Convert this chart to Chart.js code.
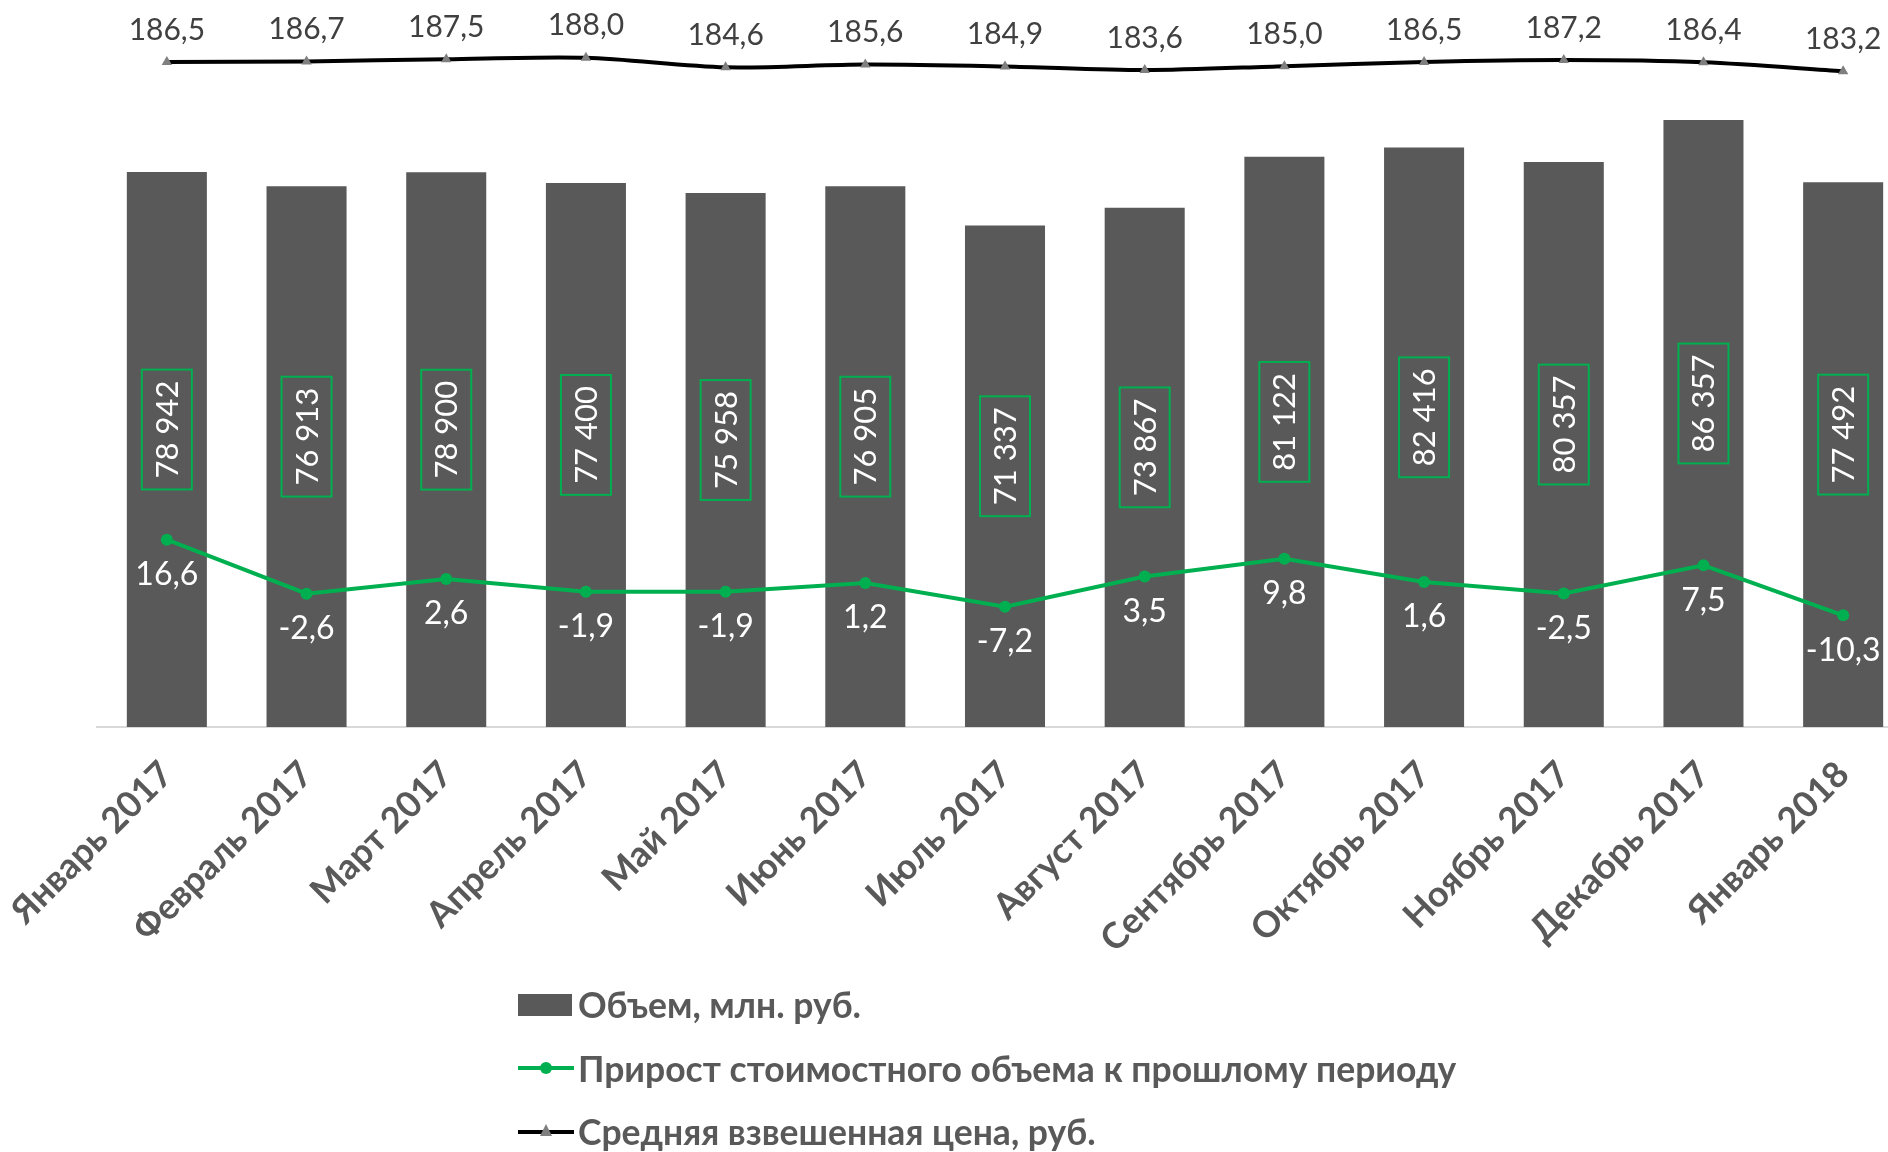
<!DOCTYPE html>
<html lang="ru">
<head>
<meta charset="utf-8">
<script src="https://cdn.jsdelivr.net/npm/chart.js@4.4.1/dist/chart.umd.min.js"></script>
<style>
    html, body { margin: 0; padding: 0; background: #fff; overflow: hidden; }
    .wrap { position: relative; width: 1940px; height: 1152px; }
    #legend { position: absolute; left: 518px; top: 973px; font: bold 35.5px Lato, sans-serif; color: #595959; }
    .row { display: flex; align-items: center; height: 63.5px; white-space: nowrap; }
    .sw { position: relative; width: 56px; height: 22px; margin-right: 4px; }
    .sw .box { position: absolute; left: 0; top: 0; width: 54px; height: 22px; }
    .sw .ln { position: absolute; left: 0; top: 9px; width: 56px; height: 4px; }
    .sw .dot { position: absolute; left: 22px; top: 5px; width: 12px; height: 12px; border-radius: 50%; }
    .sw .tri { position: absolute; left: 22px; top: 3px; width: 0; height: 0;
        border-left: 6px solid transparent; border-right: 6px solid transparent; border-bottom: 12px solid #7f7f7f; }
</style>
</head>
<body>
<div class="wrap">
    <canvas id="chart" width="1940" height="1152"></canvas>
    <div id="legend"></div>
</div>
<script>
(function () {
    "use strict";

    const months = [
        "Январь 2017", "Февраль 2017", "Март 2017", "Апрель 2017", "Май 2017",
        "Июнь 2017", "Июль 2017", "Август 2017", "Сентябрь 2017", "Октябрь 2017",
        "Ноябрь 2017", "Декабрь 2017", "Январь 2018",
    ];
    const volume = [
        78942, 76913, 78900, 77400, 75958, 76905, 71337, 73867, 81122, 82416,
        80357, 86357, 77492,
    ];
    const growth = [16.6, -2.6, 2.6, -1.9, -1.9, 1.2, -7.2, 3.5, 9.8, 1.6, -2.5, 7.5, -10.3];
    const price = [
        186.5, 186.7, 187.5, 188.0, 184.6, 185.6, 184.9, 183.6, 185.0, 186.5,
        187.2, 186.4, 183.2,
    ];

    const GREY = "#595959";
    const GREEN = "#00B050";

    const fmtVolume = (v) => String(v).replace(/\B(?=(\d{3})+(?!\d))/g, " ");
    const fmtDec = (v) => v.toFixed(1).replace(".", ",");

    // labels on bars and on both lines
    const valueLabels = {
        id: "valueLabels",
        afterDatasetsDraw(chart) {
            const ctx = chart.ctx;
            ctx.save();
            ctx.textAlign = "center";
            ctx.textBaseline = "middle";

            // volume: rotated, in green frame
            ctx.font = "31px Lato, sans-serif";
            chart.getDatasetMeta(0).data.forEach((bar, i) => {
                const txt = fmtVolume(volume[i]);
                const w = ctx.measureText(txt).width + 22;
                const h = 50;
                const cy = (bar.y + bar.base) / 2 - 20;
                ctx.save();
                ctx.translate(bar.x, cy);
                ctx.rotate(-Math.PI / 2);
                ctx.strokeStyle = GREEN;
                ctx.lineWidth = 2;
                ctx.strokeRect(-w / 2, -h / 2, w, h);
                ctx.fillStyle = "#ffffff";
                ctx.fillText(txt, 0, 1);
                ctx.restore();
            });

            // growth: white, below point
            ctx.font = "32px Lato, sans-serif";
            ctx.fillStyle = "#ffffff";
            chart.getDatasetMeta(1).data.forEach((pt, i) => {
                ctx.fillText(fmtDec(growth[i]), pt.x, pt.y + 35);
            });

            // price: dark grey, above point
            ctx.font = "30px Lato, sans-serif";
            ctx.fillStyle = "#404040";
            chart.getDatasetMeta(2).data.forEach((pt, i) => {
                ctx.fillText(fmtDec(price[i]), pt.x, pt.y - 32);
            });
            ctx.restore();
        },
    };

    const chart = new Chart(document.getElementById("chart"), {
        data: {
            labels: months,
            datasets: [
                {
                    type: "bar",
                    label: "Объем, млн. руб.",
                    data: volume,
                    backgroundColor: GREY,
                    barPercentage: 0.573,
                    categoryPercentage: 1,
                    yAxisID: "y",
                    order: 3,
                },
                {
                    type: "line",
                    label: "Прирост стоимостного объема к прошлому периоду",
                    data: growth,
                    borderColor: GREEN,
                    borderWidth: 4,
                    pointRadius: 6,
                    pointBackgroundColor: GREEN,
                    pointBorderWidth: 0,
                    tension: 0,
                    yAxisID: "y2",
                    order: 1,
                },
                {
                    type: "line",
                    label: "Средняя взвешенная цена, руб.",
                    data: price,
                    borderColor: "#000000",
                    borderWidth: 4,
                    pointStyle: "triangle",
                    pointRadius: 6,
                    pointBackgroundColor: "#7f7f7f",
                    pointBorderWidth: 0,
                    tension: 0.3,
                    yAxisID: "y2",
                    order: 2,
                },
            ],
        },
        options: {
            responsive: false,
            animation: false,
            devicePixelRatio: 1,
            layout: {
                padding: { left: 97, right: 27, top: 24, bottom: 195 },
            },
            plugins: {
                legend: { display: false },
                tooltip: { enabled: false },
            },
            scales: {
                x: {
                    grid: { display: false },
                    border: { display: true, color: "#d9d9d9", width: 2 },
                    ticks: {
                        minRotation: 45,
                        maxRotation: 45,
                        autoSkip: false,
                        padding: 18,
                        color: GREY,
                        font: { family: "Lato", size: 36, weight: "bold" },
                    },
                    afterFit(scale) {
                        scale.height = 230;
                        // long rotated labels may hang off the left edge, as in the original
                        scale.paddingLeft = 0;
                        scale.paddingRight = 0;
                    },
                },
                y: { display: false, min: 0, max: 100000 },
                y2: { display: false, min: -50, max: 200 },
            },
        },
        plugins: [valueLabels],
    });

    // legend, one item per row
    const legendEl = document.getElementById("legend");
    chart.data.datasets.forEach((ds) => {
        const row = document.createElement("div");
        row.className = "row";
        const sw = document.createElement("span");
        sw.className = "sw";
        if (ds.type === "bar") {
            sw.innerHTML = '<span class="box" style="background:' + ds.backgroundColor + '"></span>';
        } else {
            const marker = ds.pointStyle === "triangle"
                ? '<span class="tri"></span>'
                : '<span class="dot" style="background:' + ds.pointBackgroundColor + '"></span>';
            sw.innerHTML = '<span class="ln" style="background:' + ds.borderColor + '"></span>' + marker;
        }
        const txt = document.createElement("span");
        txt.textContent = ds.label;
        row.appendChild(sw);
        row.appendChild(txt);
        legendEl.appendChild(row);
    });
})();
</script>
</body>
</html>
